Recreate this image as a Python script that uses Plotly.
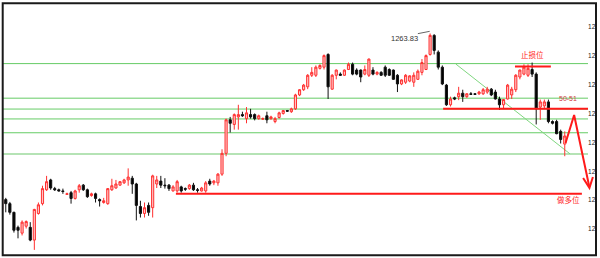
import plotly.graph_objects as go

# ---- data: candles (price) ----
open_ = [1233.4, 1235.1, 1234.4, 1232.9, 1230.3, 1229.3, 1230.5, 1230.3, 1228.1, 1232.7,
         1234.4, 1236.8, 1238.5, 1237.0, 1236.8, 1236.6, 1236.0, 1236.3, 1235.3, 1236.8,
         1237.6, 1236.8, 1235.8, 1236.1, 1235.1, 1234.6, 1234.4, 1236.8, 1237.1, 1237.6,
         1238.0, 1238.5, 1238.8, 1237.8, 1233.9, 1232.7, 1234.1, 1233.7, 1237.8, 1238.3,
         1237.6, 1237.6, 1236.6, 1236.6, 1237.3, 1237.0, 1237.0, 1237.6, 1236.8, 1236.6,
         1236.6, 1238.3, 1238.0, 1238.0, 1239.5, 1243.1, 1248.9, 1248.1, 1249.4, 1249.8,
         1249.1, 1249.8, 1249.8, 1249.1, 1249.0, 1249.6, 1249.1, 1248.6, 1249.3, 1250.0,
         1250.5, 1250.3, 1250.8, 1253.2, 1254.1, 1254.6, 1256.6, 1256.6, 1257.8, 1258.0,
         1260.2, 1254.2, 1256.6, 1256.8, 1256.6, 1257.6, 1258.5, 1257.5, 1257.5, 1256.8,
         1256.6, 1257.5, 1256.8, 1257.1, 1258.0, 1257.6, 1257.5, 1256.6, 1255.1, 1255.4,
         1255.6, 1255.4, 1255.9, 1257.1, 1257.6, 1260.2, 1263.5, 1260.6, 1258.0, 1254.9,
         1251.5, 1252.7, 1252.9, 1253.5, 1252.9, 1253.4, 1253.4, 1253.4, 1253.4, 1253.7,
         1254.2, 1253.7, 1252.5, 1251.5, 1252.5, 1253.2, 1254.1, 1256.3, 1256.8, 1256.6,
         1257.6, 1256.8, 1251.1, 1251.3, 1252.0, 1248.6, 1248.6, 1246.9, 1244.7]
high = [1235.4, 1235.4, 1234.7, 1233.0, 1230.6, 1231.5, 1231.5, 1231.2, 1233.5, 1234.6,
        1237.5, 1239.2, 1238.7, 1237.3, 1237.0, 1237.0, 1236.3, 1236.6, 1236.8, 1237.8,
        1237.8, 1237.0, 1236.3, 1236.3, 1235.3, 1235.4, 1237.1, 1238.7, 1238.5, 1238.3,
        1238.7, 1240.5, 1239.2, 1238.0, 1234.9, 1234.6, 1234.6, 1239.4, 1239.2, 1239.2,
        1238.8, 1237.8, 1237.6, 1238.5, 1237.5, 1237.2, 1237.8, 1238.0, 1237.1, 1237.3,
        1238.3, 1238.7, 1238.5, 1239.7, 1243.8, 1249.1, 1249.4, 1250.0, 1251.5, 1250.3,
        1251.1, 1250.8, 1250.0, 1249.8, 1249.3, 1250.3, 1249.6, 1249.4, 1250.3, 1250.6,
        1250.6, 1251.0, 1253.4, 1254.2, 1255.1, 1256.8, 1258.0, 1258.3, 1258.5, 1260.2,
        1260.4, 1256.8, 1257.6, 1257.1, 1257.6, 1258.8, 1258.8, 1257.8, 1257.6, 1258.3,
        1259.5, 1258.0, 1257.3, 1257.3, 1258.3, 1257.8, 1257.6, 1256.8, 1255.9, 1256.8,
        1256.6, 1257.1, 1257.6, 1259.4, 1260.2, 1263.83, 1263.7, 1260.9, 1258.3, 1255.1,
        1252.9, 1252.9, 1254.6, 1254.1, 1253.5, 1253.7, 1253.5, 1253.9, 1254.4, 1254.6,
        1254.4, 1254.1, 1252.9, 1252.5, 1255.1, 1254.6, 1256.8, 1257.6, 1258.5, 1258.5,
        1258.8, 1257.1, 1252.4, 1252.4, 1252.4, 1248.8, 1248.9, 1247.2, 1246.9]
low = [1233.0, 1232.9, 1232.5, 1229.4, 1228.4, 1228.9, 1230.1, 1227.9, 1226.4, 1232.5,
       1234.1, 1236.6, 1236.8, 1236.6, 1236.5, 1236.1, 1235.9, 1234.4, 1235.1, 1236.3,
       1236.6, 1235.4, 1235.6, 1234.6, 1233.9, 1234.4, 1234.2, 1236.6, 1237.0, 1237.5,
       1237.8, 1237.5, 1236.1, 1231.5, 1232.0, 1232.0, 1232.3, 1232.0, 1237.1, 1237.1,
       1237.0, 1236.6, 1236.5, 1236.3, 1236.3, 1236.6, 1236.8, 1236.6, 1236.3, 1236.5,
       1236.3, 1237.5, 1237.6, 1237.5, 1239.2, 1242.6, 1246.7, 1247.2, 1247.2, 1249.4,
       1248.3, 1249.1, 1248.8, 1248.9, 1248.9, 1248.3, 1248.9, 1248.3, 1249.1, 1249.8,
       1250.3, 1250.1, 1250.6, 1253.0, 1253.9, 1254.2, 1256.3, 1256.3, 1257.6, 1257.6,
       1252.5, 1254.1, 1255.9, 1256.5, 1256.5, 1257.5, 1256.6, 1256.6, 1255.4, 1256.6,
       1256.3, 1256.6, 1256.6, 1256.5, 1256.3, 1256.5, 1255.8, 1253.7, 1254.9, 1255.1,
       1255.4, 1254.6, 1255.8, 1256.6, 1257.5, 1260.0, 1260.2, 1257.6, 1254.9, 1251.3,
       1251.2, 1252.3, 1252.3, 1252.0, 1252.7, 1253.2, 1253.2, 1253.2, 1253.2, 1253.4,
       1253.0, 1252.4, 1250.6, 1250.8, 1252.4, 1252.5, 1253.7, 1255.9, 1256.6, 1256.3,
       1256.3, 1248.1, 1248.9, 1250.8, 1248.3, 1248.1, 1246.4, 1244.8, 1242.6]
close = [1235.1, 1234.4, 1232.9, 1229.8, 1229.8, 1231.2, 1231.3, 1228.1, 1233.4, 1234.2,
         1237.0, 1238.2, 1237.1, 1236.8, 1236.6, 1236.5, 1236.1, 1235.3, 1236.6, 1237.5,
         1236.8, 1235.6, 1236.1, 1235.3, 1234.9, 1234.9, 1237.0, 1237.5, 1237.8, 1238.2,
         1238.5, 1239.0, 1237.8, 1234.1, 1232.7, 1233.7, 1232.9, 1239.2, 1238.5, 1237.6,
         1237.5, 1237.0, 1237.3, 1238.2, 1236.6, 1236.9, 1237.6, 1236.8, 1236.7, 1237.1,
         1238.0, 1237.8, 1238.3, 1239.5, 1243.1, 1248.9, 1248.3, 1249.8, 1249.8, 1249.6,
         1250.1, 1249.4, 1249.1, 1249.6, 1249.1, 1248.9, 1249.4, 1249.1, 1250.1, 1250.5,
         1250.4, 1250.8, 1253.2, 1254.1, 1254.9, 1256.6, 1257.1, 1258.0, 1258.3, 1260.0,
         1254.6, 1256.6, 1257.5, 1256.6, 1257.5, 1258.5, 1256.8, 1256.8, 1256.3, 1257.6,
         1259.4, 1256.8, 1257.1, 1256.6, 1256.6, 1256.6, 1255.9, 1255.1, 1255.8, 1256.6,
         1256.5, 1256.6, 1257.3, 1258.8, 1260.0, 1263.5, 1260.9, 1258.0, 1255.1, 1251.5,
         1252.5, 1252.5, 1253.5, 1252.9, 1253.4, 1253.3, 1253.3, 1253.7, 1254.1, 1254.2,
         1253.2, 1252.5, 1251.5, 1252.4, 1254.9, 1254.2, 1256.6, 1257.5, 1258.0, 1257.8,
         1256.8, 1250.8, 1252.0, 1252.0, 1248.6, 1248.3, 1246.5, 1245.5, 1246.1]
bar_index = list(range(len(open_)))

# ---- horizontal levels (price) ----
green_levels = [1258.62, 1252.64, 1250.76, 1249.05, 1246.66]
support_level = 1243.00
resist_level = 1250.81      # 50-51
stop_level = 1258.11        # 止损位
long_level = 1236.11        # 做多位
peak_value = 1263.83

# ---- axis ticks ----
tick_vals = [1225, 1230, 1235, 1240, 1245, 1250, 1255, 1260, 1265]
tick_text = ["%.2f" % v for v in tick_vals]

RED = "#ff1a1a"
GREEN = "#66cc66"

fig = go.Figure()
fig.add_trace(go.Candlestick(
    x=bar_index, open=open_, high=high, low=low, close=close,
    increasing=dict(line=dict(color="#ff3030", width=1), fillcolor="#ffc4c4"),
    decreasing=dict(line=dict(color="#111111", width=1), fillcolor="#000000"),
    whiskerwidth=0, showlegend=False, hoverinfo="skip"))

shapes = []
X_END = 143.7
for lv in green_levels:
    shapes.append(dict(type="line", xref="x", yref="y", x0=-1, x1=X_END, y0=lv, y1=lv,
                       line=dict(color=GREEN, width=1), layer="below"))
shapes.append(dict(type="line", xref="x", yref="y", x0=-1, x1=X_END, y0=support_level, y1=support_level,
                   line=dict(color="#b5e3b5", width=2), layer="below"))
# diagonal trend line
shapes.append(dict(type="line", xref="x", yref="y", x0=111.3, x1=139.3, y0=1258.55, y1=1243.0,
                   line=dict(color="#7fd67f", width=1), layer="below"))
# red levels
shapes.append(dict(type="line", xref="x", yref="y", x0=108.2, x1=X_END, y0=resist_level, y1=resist_level,
                   line=dict(color=RED, width=2)))
shapes.append(dict(type="line", xref="x", yref="y", x0=125.8, x1=134.6, y0=stop_level, y1=stop_level,
                   line=dict(color=RED, width=2)))
shapes.append(dict(type="line", xref="x", yref="y", x0=42.7, x1=142.2, y0=long_level, y1=long_level,
                   line=dict(color=RED, width=2)))
# projected path arrow
shapes.append(dict(type="path", xref="x", yref="y",
                   path="M 138.2,1244.88 L 140.3,1249.73 L 144.0,1237.36",
                   line=dict(color=RED, width=2)))
shapes.append(dict(type="path", xref="x", yref="y",
                   path="M 142.5,1238.84 L 144.05,1237.13 L 144.9,1239.02",
                   line=dict(color=RED, width=2)))
# leader line to peak label
shapes.append(dict(type="line", xref="x", yref="y", x0=102.0, x1=104.9, y0=1263.8, y1=1264.2,
                   line=dict(color="#666666", width=1)))
# white cover right of frame, then frame
shapes.append(dict(type="rect", xref="paper", yref="paper", x0=1.0017, x1=1.02, y0=-0.02, y1=1.03,
                   fillcolor="white", line=dict(width=0), layer="above"))
shapes.append(dict(type="rect", xref="paper", yref="paper", x0=-0.0005, x1=1.0, y0=0.0106, y1=0.9988,
                   line=dict(color="#1a1a1a", width=2), layer="above"))

annotations = [
    dict(x=98.8, y=1263.03, xref="x", yref="y", text="%.2f" % peak_value, showarrow=False,
         font=dict(family="Liberation Sans", size=7.5, color="#333333")),
    dict(x=130.2, y=1260.2, xref="x", yref="y", text="止损位", showarrow=False,
         font=dict(family="Noto Sans CJK SC", size=7.5, color=RED)),
    dict(x=138.8, y=1252.5, xref="x", yref="y", text="50-51", showarrow=False,
         font=dict(family="Liberation Sans", size=7, color="#d04040")),
    dict(x=139.0, y=1235.1, xref="x", yref="y", text="做多位", showarrow=False,
         font=dict(family="Noto Sans CJK SC", size=7.5, color=RED)),
]

fig.update_layout(
    width=600, height=258,
    margin=dict(l=3, r=4, t=3, b=0, pad=0),
    paper_bgcolor="white", plot_bgcolor="white",
    boxgap=0.25,
    shapes=shapes, annotations=annotations,
    xaxis=dict(range=[0.32, 145.66], visible=False, rangeslider=dict(visible=False), fixedrange=True),
    yaxis=dict(range=[1225, 1269.10], side="right", anchor="free", position=0.985,
               tickvals=tick_vals, ticktext=tick_text, showgrid=False, zeroline=False,
               ticks="", showline=False, automargin=False,
               tickfont=dict(family="Liberation Sans", size=6.5, color="#222222")),
)

fig.write_html("out.html")
